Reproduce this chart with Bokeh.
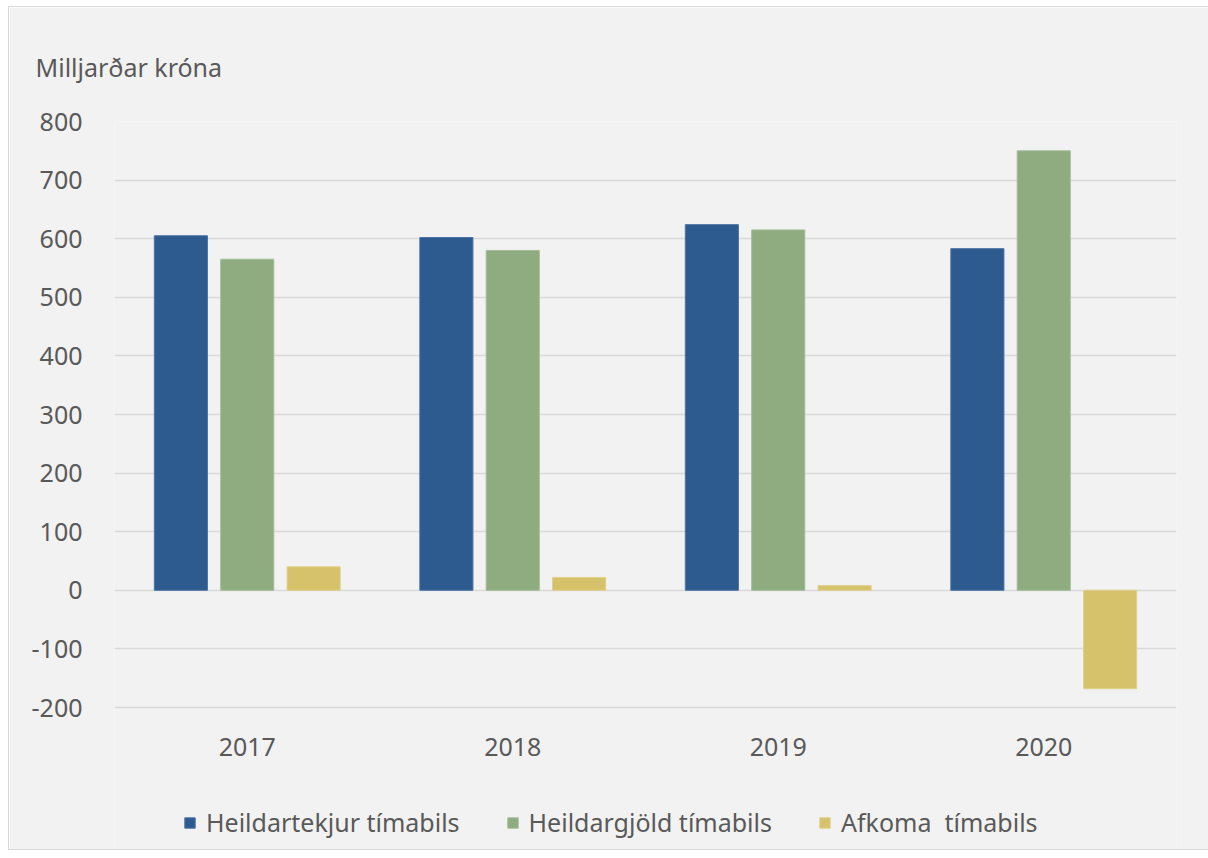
from bokeh.plotting import figure
from bokeh.models import ColumnDataSource, FactorRange, Range1d, FixedTicker, Legend, LegendItem, Title
from bokeh.core.properties import value
from bokeh.transform import dodge
from bokeh.embed import file_html
from bokeh.resources import INLINE

years = ["2017", "2018", "2019", "2020"]
tekjur = [605, 602, 624, 583]
gjold = [565, 580, 615, 750]
afkoma = [40, 22, 8, -168]
series_names = ["Heildartekjur tímabils", "Heildargjöld tímabils", "Afkoma  tímabils"]
y_ticks = [-200, -100, 0, 100, 200, 300, 400, 500, 600, 700, 800]
y_title = "Milljarðar króna"

colors = ["#2d5a8f", "#8eac7f", "#d5c26a"]
edges = ["#4a72a3", "#a3bc96", "#e0d08a"]
FONT = "Noto Sans"
TXT = "#595959"
FS = "25px"

# pixel geometry of the plotting area
PX_PER_UNIT = 586 / 1000.0
FRAME_H = 728
Y_TOP = 800
Y_BOTTOM = Y_TOP - FRAME_H / PX_PER_UNIT
YEAR_LABEL_Y = -200 - 39 / PX_PER_UNIT

src = ColumnDataSource(dict(x=years, t=tekjur, g=gjold, a=afkoma,
                            ly=[YEAR_LABEL_Y] * len(years)))

p = figure(x_range=FactorRange(*years), y_range=Range1d(Y_BOTTOM, Y_TOP),
           frame_width=1062, frame_height=FRAME_H, output_backend="svg", toolbar_location=None,
           min_border_left=105, min_border_right=33, min_border_top=114, min_border_bottom=0)
p.styles = {"border": "1px solid #d9d9d9", "margin-left": "8px", "margin-top": "6px"}
p.background_fill_color = "#f2f2f2"
p.border_fill_color = "#f2f2f2"
p.outline_line_color = None

r1 = p.vbar(x=dodge("x", -0.25, range=p.x_range), top="t", bottom=0, width=0.2, source=src,
            fill_color=colors[0], line_color=edges[0], line_width=1)
r2 = p.vbar(x=dodge("x", 0.0, range=p.x_range), top="g", bottom=0, width=0.2, source=src,
            fill_color=colors[1], line_color=edges[1], line_width=1)
r3 = p.vbar(x=dodge("x", 0.25, range=p.x_range), top="a", bottom=0, width=0.2, source=src,
            fill_color=colors[2], line_color=edges[2], line_width=1)

p.text(x="x", y="ly", text="x", source=src, text_font=value(FONT), text_font_size=value(FS),
       text_color=TXT, text_align="center", text_baseline="middle")

p.xaxis.visible = False
p.xgrid.grid_line_color = None
p.ygrid.grid_line_color = "#d9d9d9"
p.ygrid.grid_line_width = 1.5
p.ygrid.ticker = FixedTicker(ticks=y_ticks)

p.yaxis.ticker = FixedTicker(ticks=y_ticks)
p.yaxis.major_label_overrides = {t: str(t) for t in y_ticks}
p.yaxis.axis_line_color = None
p.yaxis.major_tick_line_color = None
p.yaxis.minor_tick_line_color = None
p.yaxis.major_label_text_font = FONT
p.yaxis.major_label_text_font_size = FS
p.yaxis.major_label_text_color = TXT
p.yaxis.major_label_standoff = 26

title = Title(text=y_title, text_font=FONT, text_font_size=FS,
              text_color=TXT, text_font_style="normal", align="left", offset=-79, standoff=76)
p.add_layout(title, "above")

legend = Legend(items=[LegendItem(label=series_names[0], renderers=[r1]),
                       LegendItem(label=series_names[1], renderers=[r2]),
                       LegendItem(label=series_names[2], renderers=[r3])],
                orientation="horizontal", location=(69, 10),
                label_text_font=FONT, label_text_font_size=FS, label_text_color=TXT,
                glyph_width=13, glyph_height=13, label_standoff=10, spacing=46,
                background_fill_alpha=0, border_line_color=None, margin=0, padding=5)
p.add_layout(legend, "center")

open("out.html", "w").write(file_html(p, INLINE))
